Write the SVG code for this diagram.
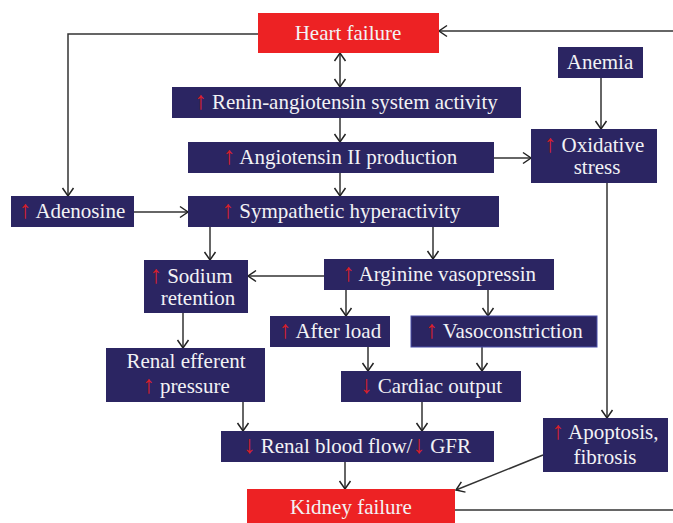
<svg xmlns="http://www.w3.org/2000/svg" width="673" height="523" viewBox="0 0 673 523">
<style>
.n{fill:#2B2562}
.r{fill:#ED2224}
.t{font-size:21px;fill:#F2F2F5;text-anchor:middle}
.a{fill:#D81F2A;font-family:'Liberation Serif',serif;font-size:25px}
.c{stroke:#333;stroke-width:1.5;fill:none}
</style>
<defs>
<marker id="h" markerUnits="userSpaceOnUse" markerWidth="12" markerHeight="14" viewBox="0 0 12 14" refX="9" refY="7" orient="auto-start-reverse">
<path d="M1,1.5 L9,7 L1,12.5" fill="none" stroke="#222" stroke-width="1.5"/>
</marker>
</defs>
<rect width="673" height="523" fill="#fff"/>
<g id="connectors" class="c">
<polyline points="258,34 68,34 68,196" marker-end="url(#h)"/>
<line x1="673" y1="31" x2="439" y2="31" marker-end="url(#h)"/>
<line x1="340" y1="53" x2="340" y2="87" marker-start="url(#h)" marker-end="url(#h)"/>
<line x1="340" y1="118" x2="340" y2="142" marker-end="url(#h)"/>
<line x1="340" y1="173" x2="340" y2="196" marker-end="url(#h)"/>
<line x1="601" y1="78" x2="601" y2="129" marker-end="url(#h)"/>
<line x1="494" y1="158" x2="531" y2="158" marker-end="url(#h)"/>
<line x1="134" y1="212" x2="188" y2="212" marker-end="url(#h)"/>
<line x1="210" y1="227" x2="210" y2="260" marker-end="url(#h)"/>
<line x1="433" y1="227" x2="433" y2="259" marker-end="url(#h)"/>
<line x1="324" y1="276" x2="248" y2="276" marker-end="url(#h)"/>
<line x1="346" y1="290" x2="346" y2="316" marker-end="url(#h)"/>
<line x1="488" y1="290" x2="488" y2="316" marker-end="url(#h)"/>
<line x1="183" y1="313" x2="183" y2="348" marker-end="url(#h)"/>
<line x1="368" y1="347" x2="368" y2="371" marker-end="url(#h)"/>
<line x1="482" y1="347" x2="482" y2="371" marker-end="url(#h)"/>
<line x1="243" y1="402" x2="243" y2="431" marker-end="url(#h)"/>
<line x1="422" y1="402" x2="422" y2="431" marker-end="url(#h)"/>
<line x1="345" y1="462" x2="345" y2="489" marker-end="url(#h)"/>
<line x1="607" y1="183" x2="607" y2="418" marker-end="url(#h)"/>
<line x1="543" y1="455" x2="456" y2="490" marker-end="url(#h)"/>
<line x1="455" y1="510" x2="673" y2="510"/>
</g>
<g font-family="'Liberation Serif', 'Times New Roman', serif">
<g id="heart-failure"><rect class="r" x="258" y="13" width="181" height="40"/><text class="t" x="348" y="40">Heart failure</text></g>
<g id="anemia"><rect class="n" x="558" y="47" width="85" height="31"/><text class="t" x="600" y="69">Anemia</text></g>
<g id="ras"><rect class="n" x="172" y="87" width="349" height="31"/><text class="t" x="346" y="109"><tspan class="a">↑</tspan> Renin-angiotensin system activity</text></g>
<g id="angiotensin"><rect class="n" x="188" y="142" width="306" height="31"/><text class="t" x="340" y="164"><tspan class="a">↑</tspan> Angiotensin II production</text></g>
<g id="oxidative"><rect class="n" x="531" y="129" width="126" height="54"/><text class="t" x="594" y="152"><tspan class="a">↑</tspan> Oxidative</text><text class="t" x="597" y="174">stress</text></g>
<g id="adenosine"><rect class="n" x="11" y="196" width="123" height="31"/><text class="t" x="72" y="218"><tspan class="a">↑</tspan> Adenosine</text></g>
<g id="sympathetic"><rect class="n" x="188" y="196" width="311" height="31"/><text class="t" x="341" y="218"><tspan class="a">↑</tspan> Sympathetic hyperactivity</text></g>
<g id="sodium"><rect class="n" x="144" y="260" width="104" height="53"/><text class="t" x="191" y="283"><tspan class="a">↑</tspan> Sodium</text><text class="t" x="198" y="305">retention</text></g>
<g id="avp"><rect class="n" x="324" y="259" width="230" height="31"/><text class="t" x="439" y="281"><tspan class="a">↑</tspan> Arginine vasopressin</text></g>
<g id="afterload"><rect class="n" x="270" y="316" width="120" height="31"/><text class="t" x="330" y="338"><tspan class="a">↑</tspan> After load</text></g>
<g id="vasoconstriction"><rect class="n" x="411" y="316" width="186" height="31" stroke="#4A4FA8" stroke-width="1"/><text class="t" x="504" y="338"><tspan class="a">↑</tspan> Vasoconstriction</text></g>
<g id="renal-efferent"><rect class="n" x="106" y="348" width="159" height="54"/><text class="t" x="186" y="368">Renal efferent</text><text class="t" x="186" y="393"><tspan class="a" font-size="21">↑</tspan> pressure</text></g>
<g id="cardiac"><rect class="n" x="341" y="371" width="180" height="31"/><text class="t" x="431" y="393"><tspan class="a">↓</tspan> Cardiac output</text></g>
<g id="rbf"><rect class="n" x="221" y="431" width="273" height="31"/><text class="t" x="357" y="453"><tspan class="a">↓</tspan> Renal blood flow/<tspan class="a">↓</tspan> GFR</text></g>
<g id="apoptosis"><rect class="n" x="543" y="418" width="125" height="54"/><text class="t" x="605" y="439"><tspan class="a">↑</tspan> Apoptosis,</text><text class="t" x="605" y="464">fibrosis</text></g>
<g id="kidney-failure"><rect class="r" x="247" y="489" width="208" height="34"/><text class="t" x="351" y="514">Kidney failure</text></g>
</g>
</svg>
